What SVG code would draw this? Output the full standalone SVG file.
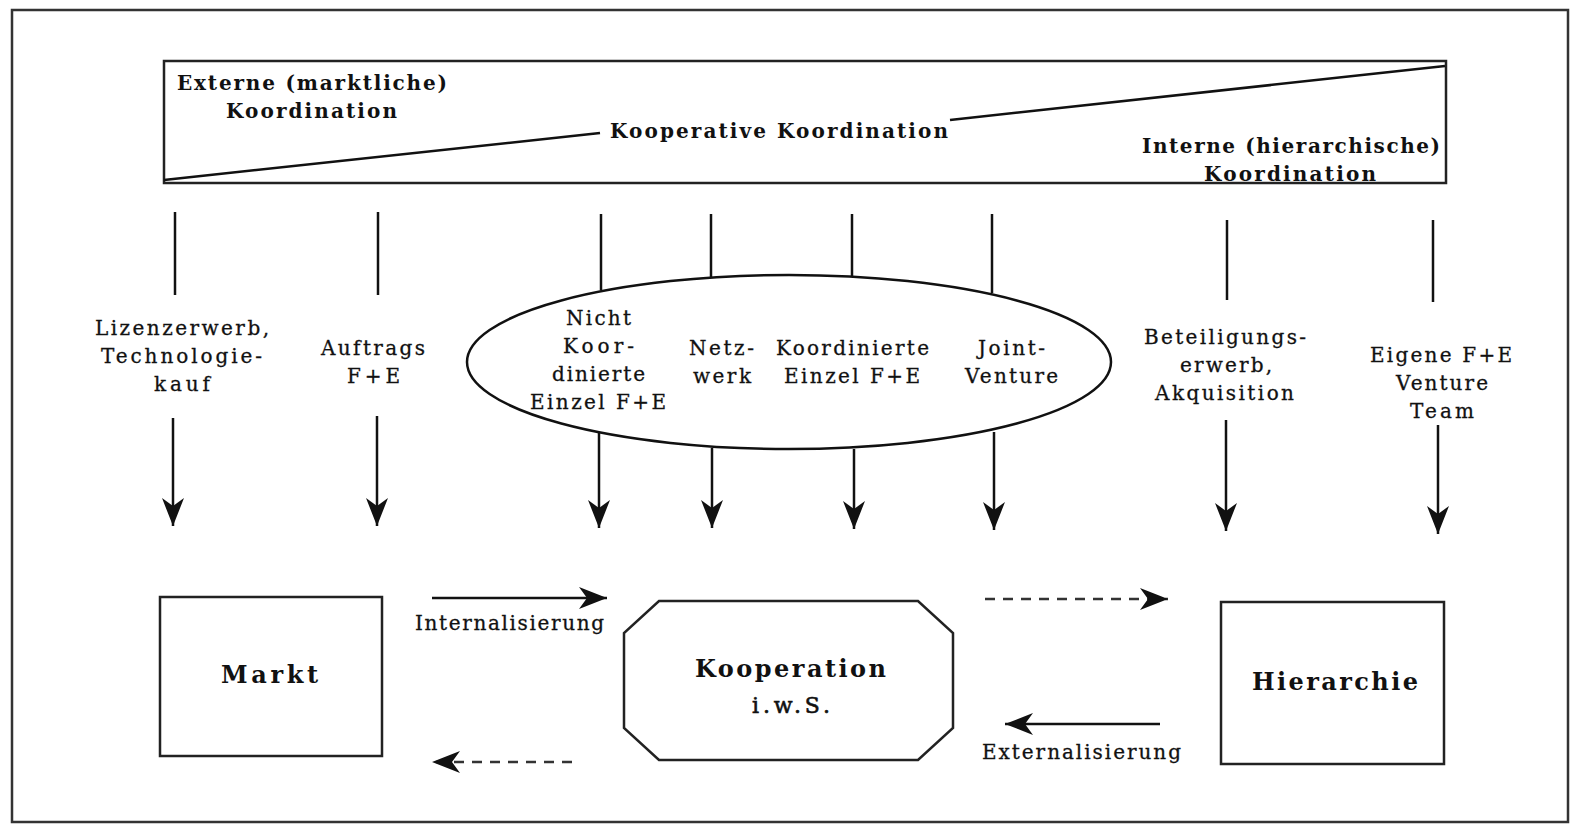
<svg xmlns="http://www.w3.org/2000/svg" width="1570" height="825" viewBox="0 0 1570 825">
<defs>
<marker id="ah" markerUnits="userSpaceOnUse" markerWidth="32" markerHeight="24" refX="28" refY="11" orient="auto">
<path d="M0,0 L28,11 L0,22 L8,11 z" fill="#111"/>
</marker>
<style>
.ln{stroke:#111;stroke-width:2.5;fill:none}
.ar{stroke:#111;stroke-width:2.5;fill:none;marker-end:url(#ah)}
.da{stroke:#333;stroke-width:2.5;fill:none;stroke-dasharray:10,8;marker-end:url(#ah)}
.box{stroke:#222;stroke-width:2.5;fill:#fff}
.h{font-family:"DejaVu Serif","Liberation Serif",serif;font-weight:bold;font-size:20px;fill:#111}
.l{font-family:"DejaVu Serif","Liberation Serif",serif;font-size:20px;fill:#111;stroke:#111;stroke-width:0.3}
.b{font-family:"DejaVu Serif","Liberation Serif",serif;font-weight:bold;font-size:24px;fill:#111}
</style>
</defs>
<rect x="12" y="10" width="1556" height="812" fill="#fff" stroke="#333" stroke-width="2.5"/>

<g id="coordination-scale">
<rect x="164" y="61" width="1282" height="122" class="box"/>
<polyline points="164,180 600,133" class="ln"/>
<polyline points="950,120 1445,66" class="ln"/>
<text class="h" x="177" y="90" textLength="270" lengthAdjust="spacing">Externe (marktliche)</text>
<text class="h" x="226" y="118" textLength="171" lengthAdjust="spacing">Koordination</text>
<text class="h" x="610" y="138" textLength="338" lengthAdjust="spacing">Kooperative Koordination</text>
<text class="h" x="1142" y="153" textLength="298" lengthAdjust="spacing">Interne (hierarchische)</text>
<text class="h" x="1204" y="181" textLength="172" lengthAdjust="spacing">Koordination</text>
</g>

<g id="kooperation-ellipse">
<ellipse cx="789" cy="362" rx="322" ry="87" fill="#fff" stroke="#111" stroke-width="2.5"/>
</g>

<g id="connectors">
<line x1="175" y1="212" x2="175" y2="295" class="ln"/>
<line x1="378" y1="212" x2="378" y2="295" class="ln"/>
<line x1="601" y1="214" x2="601" y2="290" class="ln"/>
<line x1="711" y1="214" x2="711" y2="277" class="ln"/>
<line x1="852" y1="214" x2="852" y2="277" class="ln"/>
<line x1="992" y1="214" x2="992" y2="293" class="ln"/>
<line x1="1227" y1="220" x2="1227" y2="300" class="ln"/>
<line x1="1433" y1="220" x2="1433" y2="302" class="ln"/>

<line x1="173" y1="418" x2="173" y2="526" class="ar"/>
<line x1="377" y1="416" x2="377" y2="526" class="ar"/>
<line x1="599" y1="432" x2="599" y2="528" class="ar"/>
<line x1="712" y1="448" x2="712" y2="528" class="ar"/>
<line x1="854" y1="449" x2="854" y2="529" class="ar"/>
<line x1="994" y1="432" x2="994" y2="530" class="ar"/>
<line x1="1226" y1="420" x2="1226" y2="531" class="ar"/>
<line x1="1438" y1="425" x2="1438" y2="534" class="ar"/>

<line x1="432" y1="598" x2="607" y2="598" class="ar"/>
<line x1="985" y1="599" x2="1168" y2="599" class="da"/>
<line x1="1160" y1="724" x2="1005" y2="724" class="ar"/>
<line x1="572" y1="762" x2="432" y2="762" class="da"/>
<text class="l" x="415" y="630" textLength="189" lengthAdjust="spacing">Internalisierung</text>
<text class="l" x="982" y="759" textLength="199" lengthAdjust="spacing">Externalisierung</text>
</g>

<g id="labels">
<text class="l" x="95" y="335" textLength="174" lengthAdjust="spacing">Lizenzerwerb,</text>
<text class="l" x="101" y="363" textLength="161" lengthAdjust="spacing">Technologie-</text>
<text class="l" x="154" y="391" textLength="56" lengthAdjust="spacing">kauf</text>
<text class="l" x="321" y="355" textLength="104" lengthAdjust="spacing">Auftrags</text>
<text class="l" x="347" y="383" textLength="53" lengthAdjust="spacing">F+E</text>
<text class="l" x="566" y="325" textLength="65" lengthAdjust="spacing">Nicht</text>
<text class="l" x="563" y="353" textLength="71" lengthAdjust="spacing">Koor-</text>
<text class="l" x="552" y="381" textLength="93" lengthAdjust="spacing">dinierte</text>
<text class="l" x="530" y="409" textLength="136" lengthAdjust="spacing">Einzel F+E</text>
<text class="l" x="689" y="355" textLength="65" lengthAdjust="spacing">Netz-</text>
<text class="l" x="693" y="383" textLength="58" lengthAdjust="spacing">werk</text>
<text class="l" x="776" y="355" textLength="153" lengthAdjust="spacing">Koordinierte</text>
<text class="l" x="784" y="383" textLength="136" lengthAdjust="spacing">Einzel F+E</text>
<text class="l" x="978" y="355" textLength="67" lengthAdjust="spacing">Joint-</text>
<text class="l" x="965" y="383" textLength="93" lengthAdjust="spacing">Venture</text>
<text class="l" x="1144" y="344" textLength="162" lengthAdjust="spacing">Beteiligungs-</text>
<text class="l" x="1180" y="372" textLength="92" lengthAdjust="spacing">erwerb,</text>
<text class="l" x="1155" y="400" textLength="139" lengthAdjust="spacing">Akquisition</text>
<text class="l" x="1370" y="362" textLength="142" lengthAdjust="spacing">Eigene F+E</text>
<text class="l" x="1396" y="390" textLength="92" lengthAdjust="spacing">Venture</text>
<text class="l" x="1410" y="418" textLength="64" lengthAdjust="spacing">Team</text>
</g>

<g id="markt">
<rect x="160" y="597" width="222" height="159" class="box"/>
<text class="b" x="221" y="683" textLength="97" lengthAdjust="spacing">Markt</text>
</g>

<g id="kooperation">
<polygon points="659,601 918,601 953,633 953,728 918,760 659,760 624,728 624,633" class="box"/>
<text class="b" x="695" y="677" textLength="191" lengthAdjust="spacing">Kooperation</text>
<text class="l" x="752" y="713" textLength="78" lengthAdjust="spacing" style="font-size:22px;stroke-width:0.6">i.w.S.</text>
</g>

<g id="hierarchie">
<rect x="1221" y="602" width="223" height="162" class="box"/>
<text class="b" x="1252" y="690" textLength="166" lengthAdjust="spacing">Hierarchie</text>
</g>
</svg>
